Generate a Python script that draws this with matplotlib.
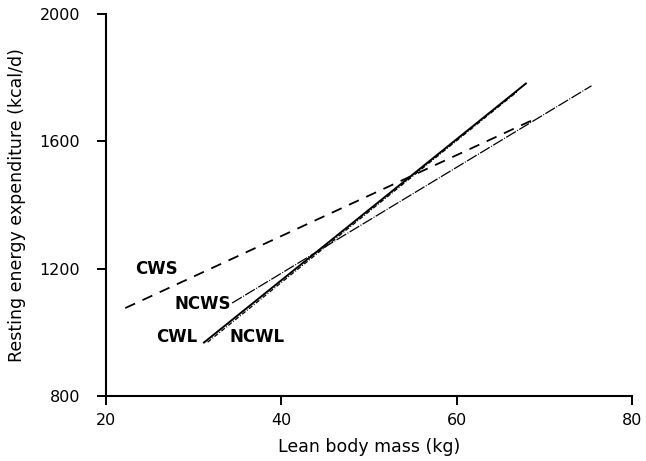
import numpy as np
import matplotlib.pyplot as plt

# regression lines: lean body mass (kg) -> resting energy expenditure (kcal/d)
groups = ['CWS', 'NCWS', 'CWL', 'NCWL']
x_start = [22.2, 34.4, 31.1, 31.6]
x_end = [69.2, 75.4, 68.0, 66.9]
y_start = [1076, 1092, 966, 969]
y_end = [1673, 1774, 1783, 1755]

label_x = [25.8, 31.0, 28.1, 37.3]
label_y = [1200, 1088, 985, 985]

styles = [
    dict(ls=(0, (6, 4.5)), lw=1.3),
    dict(ls=(0, (9, 1.2, 0.8, 1.2)), lw=0.9),
    dict(ls='-', lw=1.4),
    dict(ls=(0, (3.5, 1.4, 0.8, 1.4)), lw=0.9),
]

plt.rcParams['font.family'] = 'DejaVu Sans'
fig = plt.figure(figsize=(6.46, 4.61), dpi=100)
ax = fig.add_axes([0.164, 0.141, 0.814, 0.829])

for g, x0, x1, y0, y1, st in zip(groups, x_start, x_end, y_start, y_end, styles):
    ax.plot([x0, x1], [y0, y1], color='black', solid_capstyle='butt',
            dash_capstyle='butt', **st)

for g, lx, ly in zip(groups, label_x, label_y):
    ax.text(lx, ly, g, ha='center', va='center', fontsize=12,
            fontweight='bold', color='black')

ax.set_xlim(20, 80)
ax.set_ylim(800, 2000)
ax.set_xticks([20, 40, 60, 80])
ax.set_yticks([800, 1200, 1600, 2000])

for side in ['top', 'right']:
    ax.spines[side].set_visible(False)
for side in ['left', 'bottom']:
    ax.spines[side].set_linewidth(1.5)

ax.tick_params(direction='out', length=6.5, width=1.4, labelsize=11.5)
ax.tick_params(axis='x', pad=6)
ax.tick_params(axis='y', pad=12)
ax.set_xlabel('Lean body mass (kg)', fontsize=12.5, labelpad=7)
ax.set_ylabel('Resting energy expenditure (kcal/d)', fontsize=12.5, labelpad=10)

fig.savefig('out.png', dpi=100)
